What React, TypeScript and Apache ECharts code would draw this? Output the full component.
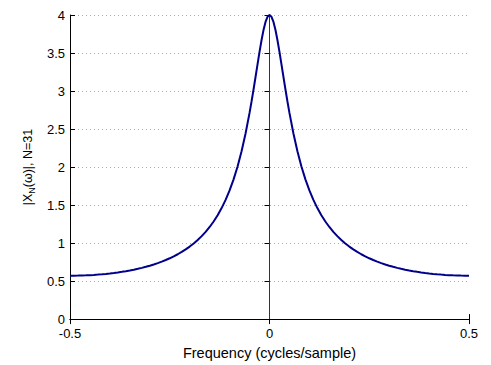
import React, { useEffect, useRef } from "react";
import * as echarts from "echarts";

const freq = [
  -0.5, -0.49, -0.48, -0.47, -0.46, -0.45, -0.44, -0.43, -0.42, -0.41,
  -0.4, -0.39, -0.38, -0.37, -0.36, -0.35, -0.34, -0.33, -0.32, -0.31,
  -0.3, -0.29, -0.28, -0.27, -0.26, -0.25, -0.24, -0.23, -0.22, -0.21,
  -0.2, -0.19, -0.18, -0.17, -0.16, -0.15, -0.14, -0.13, -0.12, -0.11,
  -0.1, -0.09, -0.08, -0.07, -0.06, -0.05, -0.045, -0.04, -0.035, -0.03,
  -0.025, -0.02, -0.015, -0.01, -0.005, 0, 0.005, 0.01, 0.015, 0.02,
  0.025, 0.03, 0.035, 0.04, 0.045, 0.05, 0.06, 0.07, 0.08, 0.09,
  0.1, 0.11, 0.12, 0.13, 0.14, 0.15, 0.16, 0.17, 0.18, 0.19,
  0.2, 0.21, 0.22, 0.23, 0.24, 0.25, 0.26, 0.27, 0.28, 0.29,
  0.3, 0.31, 0.32, 0.33, 0.34, 0.35, 0.36, 0.37, 0.38, 0.39,
  0.4, 0.41, 0.42, 0.43, 0.44, 0.45, 0.46, 0.47, 0.48, 0.49, 0.5,
];

const magnitude = [
  0.5714, 0.5717, 0.5725, 0.5739, 0.5759, 0.5784, 0.5815, 0.5852, 0.5896, 0.5945,
  0.6002, 0.6065, 0.6136, 0.6214, 0.6301, 0.6396, 0.6501, 0.6615, 0.674, 0.6877,
  0.7026, 0.7188, 0.7365, 0.7558, 0.7769, 0.8, 0.8253, 0.853, 0.8834, 0.9169,
  0.9539, 0.9949, 1.0404, 1.0912, 1.148, 1.2119, 1.2842, 1.3663, 1.4601, 1.568,
  1.6928, 1.838, 2.0079, 2.2072, 2.4409, 2.7125, 2.8623, 3.0202, 3.1843, 3.3507,
  3.5144, 3.668, 3.8026, 3.9085, 3.9765, 4.0, 3.9765, 3.9085, 3.8026, 3.668,
  3.5144, 3.3507, 3.1843, 3.0202, 2.8623, 2.7125, 2.4409, 2.2072, 2.0079, 1.838,
  1.6928, 1.568, 1.4601, 1.3663, 1.2842, 1.2119, 1.148, 1.0912, 1.0404, 0.9949,
  0.9539, 0.9169, 0.8834, 0.853, 0.8253, 0.8, 0.7769, 0.7558, 0.7365, 0.7188,
  0.7026, 0.6877, 0.674, 0.6615, 0.6501, 0.6396, 0.6301, 0.6214, 0.6136, 0.6065,
  0.6002, 0.5945, 0.5896, 0.5852, 0.5815, 0.5784, 0.5759, 0.5739, 0.5725, 0.5717, 0.5714,
];

const centerLineX = [0, 0];
const centerLineY = [0, 4];

const FONT = "Liberation Sans, Arial, Helvetica, sans-serif";

export default function App() {
  const ref = useRef<HTMLDivElement>(null);
  useEffect(() => {
    if (!ref.current) return;
    const chart = echarts.init(ref.current, undefined, { renderer: "svg" });
    const axisLine = { show: true, lineStyle: { color: "#000", width: 1 } };
    const tick = { show: true, inside: true, length: 5, lineStyle: { color: "#000" } };
    chart.setOption({
      animation: false,
      backgroundColor: "#fff",
      grid: { left: 70, right: 22, top: 15, bottom: 35, containLabel: false },
      xAxis: [
        {
          type: "value",
          min: -0.5,
          max: 0.5,
          interval: 0.5,
          axisLine: { ...axisLine, onZero: false },
          axisTick: tick,
          splitLine: { show: false },
          axisLabel: { color: "#000", fontSize: 13, lineHeight: 13, fontFamily: FONT, margin: 8 },
          name: "Frequency (cycles/sample)",
          nameLocation: "middle",
          nameGap: 10,
          nameTextStyle: { color: "#000", fontSize: 14.5, fontFamily: FONT },
        },
        {
          type: "value",
          position: "top",
          min: -0.5,
          max: 0.5,
          interval: 0.5,
          axisLine,
          axisTick: tick,
          axisLabel: { show: false },
          splitLine: { show: false },
        },
      ],
      yAxis: [
        {
          type: "value",
          min: 0,
          max: 4,
          interval: 0.5,
          axisLine: { ...axisLine, onZero: false },
          axisTick: tick,
          splitLine: { show: true, lineStyle: { color: "#aaa", type: [1, 3], width: 1 } },
          axisLabel: { color: "#000", fontSize: 13, lineHeight: 12, fontFamily: FONT, margin: 5 },
          name: "{a||X}{sub|N}{a|(ω)|, N=31}",
          nameLocation: "middle",
          nameGap: 30,
          nameRotate: 90,
          nameTextStyle: {
            color: "#000",
            fontSize: 12.5,
            fontFamily: FONT,
            rich: {
              a: { fontSize: 12.5, fontFamily: FONT, color: "#000" },
              sub: { fontSize: 9, fontFamily: FONT, color: "#000", verticalAlign: "bottom", padding: [7, 0, 0, 0] },
            },
          },
        },
        {
          type: "value",
          position: "right",
          min: 0,
          max: 4,
          interval: 0.5,
          axisLine,
          axisTick: tick,
          axisLabel: { show: false },
          splitLine: { show: false },
        },
      ],
      series: [
        {
          type: "line",
          data: centerLineX.map((x, i) => [x, centerLineY[i]]),
          showSymbol: false,
          lineStyle: { color: "#333", width: 1 },
          silent: true,
        },
        {
          type: "line",
          data: freq.map((f, i) => [f, magnitude[i]]),
          showSymbol: false,
          smooth: false,
          lineStyle: { color: "#00008b", width: 2 },
        },
      ],
    });
    return () => chart.dispose();
  }, []);
  return (
    <div
      ref={ref}
      style={{ position: "fixed", left: 0, top: 0, width: 491, height: 365 }}
    />
  );
}
